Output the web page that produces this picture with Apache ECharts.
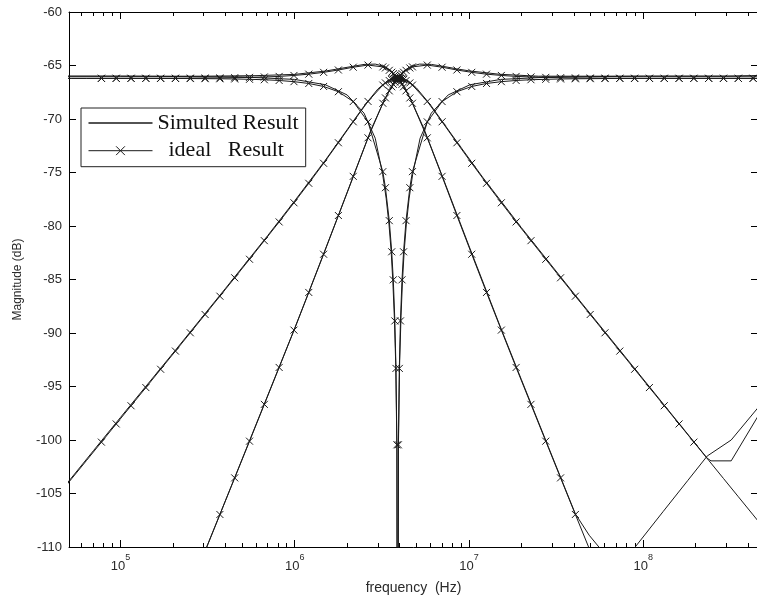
<!DOCTYPE html>
<html>
<head>
<meta charset="utf-8">
<script src="https://cdn.jsdelivr.net/npm/echarts@6/dist/echarts.min.js"></script>
<style>html,body{margin:0;padding:0;background:#fff}#c{width:757px;height:601px}</style>
</head>
<body>
<div id="c"></div>
<script>
// ---------- data ----------
const seriesNames = ['Simulted Result', 'ideal   Result'];

// ideal (marked) curves share one frequency grid, Hz
const freqIdeal = [4.33e4, 5.26e4, 6.40e4, 7.78e4, 9.46e4, 1.151e5, 1.400e5, 1.702e5, 2.070e5, 2.518e5, 3.062e5, 3.724e5, 4.529e5, 5.508e5, 6.699e5, 8.147e5, 9.908e5, 1.205e6, 1.466e6, 1.782e6, 2.168e6, 2.636e6, 3.206e6,
  3.319e6, 3.491e6, 3.606e6, 3.681e6, 3.758e6, 3.814e6, 3.862e6, 3.899e6, 3.937e6, 3.987e6, 4.046e6, 4.130e6, 4.217e6, 4.355e6, 4.581e6,
  4.742e6, 5.768e6, 7.015e6, 8.531e6, 1.038e7, 1.262e7, 1.535e7, 1.866e7, 2.270e7, 2.761e7, 3.357e7, 4.083e7, 4.966e7, 6.039e7, 7.345e7, 8.933e7, 1.086e8, 1.321e8, 1.607e8, 1.954e8, 2.377e8, 2.891e8, 3.516e8, 4.276e8, 5.200e8];

const idealLP = [-66.20, -66.20, -66.20, -66.20, -66.20, -66.20, -66.20,
  -66.19, -66.19, -66.18, -66.17, -66.16, -66.14, -66.11, -66.07, -66.02, -65.93, -65.81, -65.64, -65.42, -65.16, -64.96, -65.13,
  -65.23, -65.45, -65.63, -65.76, -65.90, -66.02, -66.12,
  -66.20,
  -66.29, -66.40, -66.54, -66.76, -66.99, -67.37, -68.03,
  -68.53, -71.76, -75.36, -79.02, -82.64, -86.21, -89.73, -93.22, -96.67, -100.11, -103.54, -106.96, -110.37, -113.8, -117.2, -120.6, -124.0, -127.4, -130.8, -134.2, -137.6, -141.0, -144.4, -147.8, -151.2];

const idealHP = [-144.4, -141.0, -137.6, -134.2, -130.8, -127.4, -124.0, -120.6, -117.2, -113.8, -110.37, -106.96, -103.54, -100.11, -96.67, -93.22, -89.73, -86.21, -82.64, -79.02, -75.36, -71.76, -68.53,
  -68.03, -67.37, -66.99, -66.76, -66.54, -66.40, -66.29,
  -66.20,
  -66.12, -66.02, -65.90, -65.76, -65.63, -65.45, -65.23,
  -65.13, -64.96, -65.16, -65.42, -65.64, -65.81, -65.93, -66.02, -66.07, -66.11, -66.14, -66.16, -66.17, -66.18, -66.19, -66.19,
  -66.20, -66.20, -66.20, -66.20, -66.20, -66.20, -66.20, -66.20, -66.20];

const idealBP = [-105.3, -103.6, -101.9, -100.2, -98.5, -96.8, -95.1, -93.39, -91.69, -89.98, -88.27, -86.56, -84.84, -83.11, -81.37, -79.62, -77.83, -76.01, -74.14, -72.22, -70.26, -68.36, -66.83,
  -66.63, -66.41, -66.31, -66.26, -66.22, -66.21, -66.20,
  -66.20,
  -66.20, -66.21, -66.22, -66.26, -66.31, -66.41, -66.63,
  -66.83, -68.36, -70.26, -72.22, -74.14, -76.01, -77.83, -79.62, -81.37, -83.11, -84.84, -86.56, -88.27, -89.98, -91.69, -93.39, -95.1, -96.8, -98.5, -100.2, -101.9, -103.6, -105.3, -107.0, -108.7];

const idealNotch = [-66.20, -66.20, -66.20, -66.20, -66.20, -66.20, -66.20,
  -66.21, -66.21, -66.22, -66.23, -66.24, -66.26, -66.29, -66.33, -66.40, -66.51, -66.68, -66.96, -67.45, -68.37, -70.27, -74.92,
  -76.42, -79.50, -82.41, -85.03, -88.87, -93.31, -100.45,
  -150,
  -100.45, -93.31, -88.87, -85.03, -82.41, -79.50, -76.42,
  -74.92, -70.27, -68.37, -67.45, -66.96, -66.68, -66.51, -66.40, -66.33, -66.29, -66.26, -66.24, -66.23, -66.22, -66.21, -66.21,
  -66.20, -66.20, -66.20, -66.20, -66.20, -66.20, -66.20, -66.20, -66.20];

// simulated (plain) curves
const simLPFreq = [4.33e4, 1.0e5, 3.0e5, 6.0e5, 1.0e6, 1.5e6, 2.0e6, 2.5e6, 2.9e6, 3.3e6, 3.6e6, 3.9e6, 4.2e6, 4.6e6, 5.5e6, 7.0e6, 1.0e7, 1.5e7, 2.0e7, 3.0e7, 4.08e7, 4.9e7, 5.57e7, 7.0e7, 9.0e7, 1.3e8, 1.8e8, 2.33e8, 3.2e8, 4.55e8, 5.2e8];
const simLP = [-66.0, -66.0, -66.0, -65.95, -65.83, -65.52, -65.17, -64.9, -64.87, -65.1, -65.52, -66.15, -66.9, -68.05, -70.85, -75.25, -81.85, -89.25, -94.35, -101.5, -106.9, -108.9, -110.0, -112.8, -110.0, -106.7, -103.8, -101.5, -100.0, -97.0, -95.8];

const simHPFreq = [4.33e4, 1.0e5, 2.0e5, 3.06e5, 4.0e5, 5.5e5, 8.0e5, 1.0e6, 1.45e6, 2.0e6, 2.76e6, 3.3e6, 3.62e6, 3.9e6, 4.22e6, 4.6e6, 5.2e6, 6.1e6, 7.0e6, 8.5e6, 1.0e7, 1.5e7, 2.5e7, 5.0e7, 1.0e8, 3.0e8, 4.2e8, 5.2e8];
const simHP = [-144.5, -129.8, -117.8, -110.4, -105.7, -100.1, -93.5, -89.6, -82.8, -76.9, -70.9, -68.1, -66.95, -66.15, -65.52, -65.12, -64.87, -64.9, -65.06, -65.31, -65.5, -65.82, -66.0, -66.0, -66.0, -66.0, -65.95, -65.9];

const simBPFreq = [4.33e4, 7.0e4, 1.0e5, 2.0e5, 4.0e5, 7.0e5, 1.0e6, 1.5e6, 2.0e6, 2.5e6, 3.0e6, 3.4e6, 3.7e6, 3.9e6, 4.1e6, 4.5e6, 5.0e6, 6.0e6, 8.0e6, 1.2e7, 2.0e7, 4.0e7, 8.0e7, 1.5e8, 2.33e8, 2.45e8, 3.2e8, 4.55e8, 5.2e8];
const simBP = [-105.2, -101.0, -97.9, -91.9, -85.85, -80.9, -77.65, -73.85, -71.0, -68.8, -67.2, -66.45, -66.15, -66.1, -66.15, -66.45, -67.1, -68.65, -71.5, -75.45, -80.15, -86.3, -92.35, -97.85, -101.7, -101.95, -101.95, -97.8, -96.3];

const simNotchFreq = [4.33e4, 1.0e5, 5.0e5, 1.0e6, 1.5e6, 2.0e6, 2.5e6, 2.9e6, 3.2e6, 3.35e6, 3.48e6, 3.58e6, 3.66e6, 3.73e6, 3.8e6, 3.86e6, 3.9e6, 3.94e6, 4.003e6, 4.078e6, 4.156e6, 4.249e6, 4.371e6, 4.54e6, 4.753e6, 5.245e6, 6.084e6, 7.605e6, 1.014e7, 1.521e7, 3.04e7, 1.0e8, 5.2e8];
const simNotch = [-66.0, -66.0, -66.07, -66.3, -66.8, -67.75, -69.45, -71.8, -75.2, -77.4, -79.9, -82.4, -85.2, -88.4, -92.8, -100.5, -150, -100.5, -92.8, -88.4, -85.2, -82.4, -79.9, -77.4, -75.2, -71.8, -69.45, -67.75, -66.8, -66.3, -66.07, -66.0, -66.0];

// axis ticks
const xMajorTicks = [1e5, 1e6, 1e7, 1e8];
const xMinorTicks = [6e4, 7e4, 8e4, 9e4, 2e5, 3e5, 4e5, 5e5, 6e5, 7e5, 8e5, 9e5, 2e6, 3e6, 4e6, 5e6, 6e6, 7e6, 8e6, 9e6, 2e7, 3e7, 4e7, 5e7, 6e7, 7e7, 8e7, 9e7, 2e8, 3e8, 4e8];
const X_MIN = 50700, X_MAX = 4.56e8;
const Y_MIN = -110, Y_MAX = -60, Y_STEP = 5;
// frequency span over which each ideal curve carries × markers
const markSpans = [[7.7e4, 1e9], [7.7e4, 1e9], [7.7e4, 1.96e8], [7.7e4, 1e9]];

// ---------- chart ----------
const INK = '#1a1a1a';
const TXT = '#2a2a2a';
const X_SYMBOL = 'path://M0,0L10,10M10,0L0,10';

function xAxisCfg(position, ticks, len, withLine, withLabels) {
  const ax = {
    type: 'log', logBase: 10, min: X_MIN, max: X_MAX, position: position, gridIndex: 0,
    axisLine: { show: withLine, onZero: false, lineStyle: { color: '#000', width: 1 } },
    axisTick: { show: true, inside: true, length: len, customValues: ticks, lineStyle: { color: '#000', width: 1 } },
    splitLine: { show: false }, minorTick: { show: false }, minorSplitLine: { show: false },
    axisLabel: { show: false }
  };
  if (withLabels) {
    ax.axisLabel = {
      show: true, customValues: ticks, margin: 6,
      formatter: function (v) { return '{b|10}{s|' + Math.round(Math.log10(v)) + '}'; },
      rich: {
        b: { fontSize: 13, fontFamily: 'Liberation Sans', color: TXT, lineHeight: 20, verticalAlign: 'bottom' },
        s: { fontSize: 9, fontFamily: 'Liberation Sans', color: TXT, lineHeight: 20, verticalAlign: 'top' }
      }
    };
    ax.name = 'frequency  (Hz)';
    ax.nameLocation = 'middle';
    ax.nameGap = 34;
    ax.nameMoveOverlap = false;
    ax.nameTextStyle = { fontSize: 14, fontFamily: 'Liberation Sans', color: TXT };
  }
  return ax;
}

function yAxisCfg(position, withLabels) {
  const ax = {
    type: 'value', min: Y_MIN, max: Y_MAX, interval: Y_STEP, position: position, gridIndex: 0,
    axisLine: { show: true, onZero: false, lineStyle: { color: '#000', width: 1 } },
    axisTick: { show: true, inside: true, length: 7, lineStyle: { color: '#000', width: 1 } },
    splitLine: { show: false },
    axisLabel: { show: withLabels, margin: 7, fontSize: 13, fontFamily: 'Liberation Sans', color: TXT }
  };
  if (withLabels) {
    ax.name = 'Magnitude (dB)';
    ax.nameLocation = 'middle';
    ax.nameGap = 45;
    ax.nameMoveOverlap = false;
    ax.nameTextStyle = { fontSize: 12, fontFamily: 'Liberation Sans', color: TXT };
  }
  return ax;
}

const series = [];
[[simLPFreq, simLP], [simHPFreq, simHP], [simBPFreq, simBP], [simNotchFreq, simNotch]].forEach(function (pair) {
  series.push({
    type: 'line', name: seriesNames[0], xAxisIndex: 0, yAxisIndex: 0,
    data: pair[0].map(function (f, i) { return [f, pair[1][i]]; }),
    symbol: 'none', showSymbol: false, clip: true, silent: true, z: 2,
    lineStyle: { color: INK, width: 1 }, itemStyle: { color: INK }
  });
});
[idealLP, idealHP, idealBP, idealNotch].forEach(function (vals, si) {
  const span = markSpans[si];
  series.push({
    type: 'line', name: seriesNames[1], xAxisIndex: 0, yAxisIndex: 0,
    data: freqIdeal.map(function (f, i) {
      const item = { value: [f, vals[i]] };
      if (f < span[0] || f > span[1]) item.symbol = 'none';
      return item;
    }),
    symbol: X_SYMBOL, symbolSize: 7, showSymbol: true, showAllSymbol: true, clip: true, silent: true, z: 3,
    lineStyle: { color: INK, width: 1 },
    itemStyle: { color: INK, borderColor: INK, borderWidth: 1 }
  });
});

const chart = echarts.init(document.getElementById('c'), null, { renderer: 'canvas' });
chart.setOption({
  animation: false,
  backgroundColor: '#fff',
  grid: { left: 69, right: -1, top: 12, bottom: 54, containLabel: false, outerBoundsMode: 'none' },
  legend: {
    data: [
      { name: seriesNames[0], icon: 'path://M0,0L64,0L64,1.3L0,1.3Z' },
      { name: seriesNames[1] }
    ],
    formatter: function (name) { return name === seriesNames[1] ? '  ' + name : name; },
    orient: 'vertical', left: 81, top: 108,
    itemWidth: 64, itemHeight: 11, itemGap: 5.7,
    padding: [4, 7, 5, 7],
    symbolKeepAspect: true,
    borderColor: '#222', borderWidth: 1, borderRadius: 0,
    backgroundColor: '#fff',
    selectedMode: false,
    lineStyle: { width: 1 },
    itemStyle: { borderWidth: 1 },
    textStyle: { fontFamily: 'Liberation Serif', fontSize: 22, lineHeight: 22, color: '#111' },
    z: 10
  },
  xAxis: [
    xAxisCfg('bottom', xMajorTicks, 7, true, true),
    xAxisCfg('bottom', xMinorTicks, 4, false, false),
    xAxisCfg('top', xMajorTicks, 7, true, false),
    xAxisCfg('top', xMinorTicks, 4, false, false)
  ],
  yAxis: [yAxisCfg('left', true), yAxisCfg('right', false)],
  series: series
});
</script>
</body>
</html>
